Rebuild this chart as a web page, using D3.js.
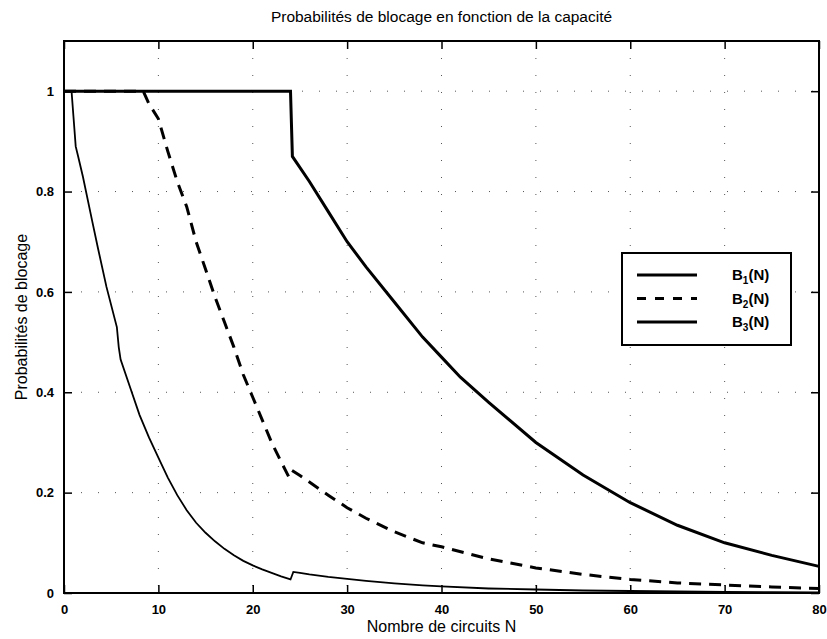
<!DOCTYPE html>
<html>
<head>
<meta charset="utf-8">
<script src="https://cdn.jsdelivr.net/npm/d3@7"></script>
<style>
  body { margin: 0; background: #fff; }
  text { font-family: "Liberation Sans", Arial, Helvetica, sans-serif; fill: #000; }
  .tick-label { font-size: 13px; font-weight: bold; }
</style>
</head>
<body>
<div id="chart"></div>
<script>
// capacity N for each series
var n1 = [0, 0.8, 1.0, 1.24, 1.5, 2, 3, 3.6, 4.5, 5.6, 5.8, 6, 7, 8, 9, 10, 11, 12, 13, 14, 15, 16, 17, 18, 19, 20, 21, 22, 23, 24, 24.3, 25, 26, 28, 30, 32, 35, 38, 40, 45, 50, 55, 60, 65, 70, 75, 80];
var b1 = [1, 1, 0.95, 0.89, 0.87, 0.83, 0.74, 0.687, 0.61, 0.53, 0.49, 0.465, 0.41, 0.355, 0.31, 0.27, 0.23, 0.195, 0.165, 0.14, 0.12, 0.103, 0.088, 0.075, 0.064, 0.055, 0.047, 0.04, 0.033, 0.027, 0.042, 0.040, 0.037, 0.032, 0.028, 0.024, 0.019, 0.015, 0.013, 0.009, 0.007, 0.005, 0.004, 0.003, 0.002, 0.0015, 0.001];

var n2 = [0, 8.4, 9, 10, 11, 12, 13, 14, 15, 16, 17, 18, 19, 20, 21, 22, 23, 23.8, 24.1, 25, 26, 28, 30, 32, 35, 38, 40, 45, 50, 55, 60, 65, 70, 75, 80];
var b2 = [1, 1, 0.975, 0.945, 0.88, 0.82, 0.77, 0.70, 0.645, 0.59, 0.54, 0.49, 0.435, 0.39, 0.345, 0.30, 0.262, 0.232, 0.245, 0.234, 0.221, 0.195, 0.17, 0.149, 0.122, 0.10, 0.092, 0.068, 0.05, 0.037, 0.027, 0.02, 0.016, 0.012, 0.009];

var n3 = [0, 24, 24.2, 26, 28, 30, 32, 35, 38, 40, 42, 45, 50, 55, 60, 65, 70, 75, 80];
var b3 = [1, 1, 0.87, 0.82, 0.76, 0.70, 0.65, 0.58, 0.51, 0.47, 0.43, 0.38, 0.30, 0.235, 0.18, 0.135, 0.10, 0.075, 0.053];

var xTicks = [0, 10, 20, 30, 40, 50, 60, 70, 80];
var yTicks = [0, 0.2, 0.4, 0.6, 0.8, 1];
var legendNames = ["1", "2", "3"];

var svgWidth = 827;
var svgHeight = 639;

var margin = { top: 41, right: 8, bottom: 46, left: 64 };
var width = svgWidth - margin.left - margin.right;
var height = svgHeight - margin.top - margin.bottom;

var svg = d3.select("#chart")
  .append("svg")
  .attr("width", svgWidth)
  .attr("height", svgHeight);

var chartGroup = svg.append("g")
  .attr("transform", `translate(${margin.left}, ${margin.top})`);

var xScale = d3.scaleLinear().domain([0, 80]).range([0, width]);
var yScale = d3.scaleLinear().domain([0, 1.1]).range([height, 0]);

// faint dotted grid like the scanned matlab figure
chartGroup.append("g")
  .selectAll("line.gx")
  .data(xTicks.slice(1, -1))
  .enter()
  .append("line")
  .attr("x1", d => xScale(d)).attr("x2", d => xScale(d))
  .attr("y1", 0).attr("y2", height)
  .attr("stroke", "#555")
  .attr("stroke-width", 1)
  .attr("stroke-dasharray", "1,16");

chartGroup.append("g")
  .selectAll("line.gy")
  .data(yTicks.slice(1))
  .enter()
  .append("line")
  .attr("x1", 0).attr("x2", width)
  .attr("y1", d => yScale(d)).attr("y2", d => yScale(d))
  .attr("stroke", "#555")
  .attr("stroke-width", 1)
  .attr("stroke-dasharray", "1,16");

// axes, ticks pointing inward on all four sides
var bottomAxis = d3.axisBottom(xScale).tickValues(xTicks).tickSizeInner(-8).tickSizeOuter(0).tickPadding(12);
var leftAxis = d3.axisLeft(yScale).tickValues(yTicks).tickSizeInner(-8).tickSizeOuter(0).tickPadding(12).tickFormat(d => d);
var topAxis = d3.axisTop(xScale).tickValues(xTicks).tickSizeInner(-8).tickSizeOuter(0).tickFormat("");
var rightAxis = d3.axisRight(yScale).tickValues(yTicks).tickSizeInner(-8).tickSizeOuter(0).tickFormat("");

var xAxis = chartGroup.append("g")
  .attr("transform", `translate(0, ${height})`)
  .call(bottomAxis);
var yAxis = chartGroup.append("g").call(leftAxis);
chartGroup.append("g").call(topAxis);
chartGroup.append("g").attr("transform", `translate(${width}, 0)`).call(rightAxis);

chartGroup.selectAll(".domain").remove();
chartGroup.selectAll(".tick line").attr("stroke", "#000").attr("stroke-width", 1.5);
xAxis.selectAll("text").attr("class", "tick-label");
yAxis.selectAll("text").attr("class", "tick-label").attr("dx", "2");

chartGroup.append("rect")
  .attr("x", 0).attr("y", 0)
  .attr("width", width).attr("height", height)
  .attr("fill", "none")
  .attr("stroke", "#000")
  .attr("stroke-width", 2);

var line = d3.line()
  .x(d => xScale(d[0]))
  .y(d => yScale(d[1]));

chartGroup.append("path")
  .datum(d3.zip(n3, b3))
  .attr("d", line)
  .attr("fill", "none")
  .attr("stroke", "#000")
  .attr("stroke-width", 3);

chartGroup.append("path")
  .datum(d3.zip(n2, b2))
  .attr("d", line)
  .attr("fill", "none")
  .attr("stroke", "#000")
  .attr("stroke-width", 3)
  .attr("stroke-dasharray", "12,8");

chartGroup.append("path")
  .datum(d3.zip(n1, b1))
  .attr("d", line)
  .attr("fill", "none")
  .attr("stroke", "#000")
  .attr("stroke-width", 1.8);

// legend
var legend = svg.append("g").attr("transform", "translate(622, 253)");
legend.append("rect")
  .attr("width", 169).attr("height", 92)
  .attr("fill", "#fff")
  .attr("stroke", "#000")
  .attr("stroke-width", 2);

var dashes = [null, "9,9", null];
legendNames.forEach(function(name, i) {
  var y = 22 + i * 23.5;
  legend.append("line")
    .attr("x1", 15).attr("x2", 75)
    .attr("y1", y).attr("y2", y)
    .attr("stroke", "#000")
    .attr("stroke-width", 3)
    .attr("stroke-dasharray", dashes[i]);
  var t = legend.append("text")
    .attr("x", 110).attr("y", y + 5)
    .style("font-size", "15px")
    .style("font-weight", "bold");
  t.append("tspan").text("B");
  t.append("tspan").attr("dy", 4).style("font-size", "10px").text(name);
  t.append("tspan").attr("dy", -4).text("(N)");
});

// titles
svg.append("text")
  .attr("x", margin.left + width / 2)
  .attr("y", 22)
  .attr("text-anchor", "middle")
  .style("font-size", "15.5px")
  .text("Probabilités de blocage en fonction de la capacité");

svg.append("text")
  .attr("x", margin.left + width / 2)
  .attr("y", 632)
  .attr("text-anchor", "middle")
  .style("font-size", "16px")
  .text("Nombre de circuits N");

svg.append("text")
  .attr("transform", `translate(27, ${margin.top + height / 2}) rotate(-90)`)
  .attr("text-anchor", "middle")
  .style("font-size", "16px")
  .text("Probabilités de blocage");
</script>
</body>
</html>
